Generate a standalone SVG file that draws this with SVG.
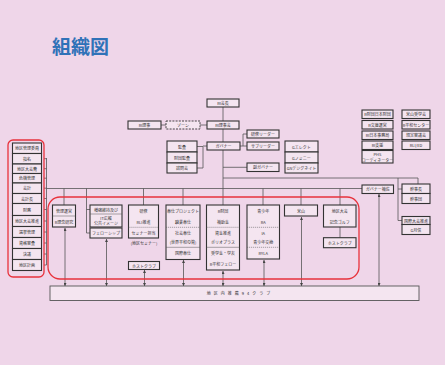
<svg xmlns="http://www.w3.org/2000/svg" width="445" height="365" viewBox="0 0 445 365">
<defs>
<style>
.b{fill:#f4e5f0;stroke:#333;stroke-width:1.1}
.bd{fill:#f4e5f0;stroke:#333;stroke-width:0.9;stroke-dasharray:2 1.2}
.t{font-family:"Noto Sans CJK JP","Noto Sans",sans-serif;font-size:4px;fill:#333;text-anchor:middle;dominant-baseline:central}
.c{stroke:#555;stroke-width:0.8;fill:none}
.s{stroke:#555;stroke-width:0.5;fill:none}
.sd{stroke:#555;stroke-width:0.5;fill:none;stroke-dasharray:1.2 0.8}
.a{stroke:#555;stroke-width:0.8;fill:none;marker-start:url(#ah);marker-end:url(#ah)}
.red{fill:none;stroke:#e8323c;stroke-width:1.3}
</style>
<marker id="ah" viewBox="0 0 4 4" refX="4" refY="2" markerWidth="3" markerHeight="3" markerUnits="userSpaceOnUse" orient="auto-start-reverse">
<path d="M0,0 L4,2 L0,4 z" fill="#444"/>
</marker>
</defs>
<rect x="0" y="0" width="445" height="365" fill="#efd6e9"/>
<text x="52" y="54" font-family="'Noto Sans CJK JP','Noto Sans',sans-serif" font-size="19" font-weight="bold" fill="#2f72b8">組織図</text>

<g id="connectors">
<path class="c" d="M223,107V121 M161,125H166 M200,125H207 M223,129V142"/>
<path class="c" d="M197,146.5H203 M197,168H203 M203,146.5V168 M203,146H207"/>
<path class="c" d="M240,146H243 M243,134V146 M243,134H247 M243,146H247"/>
<path class="c" d="M223,150V205 M223,167.3H247"/>
<path class="c" d="M223,178H418V184 M398,178V220.5 M398,189H402 M398,220.5H402"/>
<path class="c" d="M46.5,158V265 M44,158.7H46.5 M44,168.7H46.5 M44,178.2H46.5 M44,188.2H46.5 M44,198.5H46.5 M44,209.5H46.5 M44,221H46.5 M44,232H46.5 M44,243H46.5 M44,254H46.5 M44,265H46.5"/>
<path class="c" d="M46.5,188.5H362"/>
<path class="c" d="M64,188.5V205 M86.5,188.5V233 M86.5,209.5H90 M86.5,233H90 M143.5,188.5V205 M183,188.5V205 M263,188.5V205 M301,188.5V205 M340,188.5V205 M340,227V237.7"/>
<path class="a" d="M65,286V228"/>
<path class="a" d="M106.5,286V239"/>
<path class="a" d="M144.5,286V270"/>
<path class="a" d="M183.5,286V260"/>
<path class="a" d="M223,286V271"/>
<path class="a" d="M264,286V260"/>
<path class="a" d="M301.5,286V217"/>
<path class="a" d="M379,286V194"/>
</g>

<rect class="red" x="8" y="140" width="36" height="137" rx="5"/>
<rect class="red" x="48" y="197" width="311" height="82" rx="12"/>

<g id="ri-kaicho"><rect class="b" x="207" y="99" width="32" height="8"/><text class="t" x="223" y="103">RI会長</text></g>
<g id="ri-riji"><rect class="b" x="128" y="121" width="33" height="8"/><text class="t" x="144.5" y="125">RI理事</text></g>
<g id="zone"><rect class="bd" x="166" y="121" width="34" height="8"/><text class="t" x="183" y="125">ゾーン</text></g>
<g id="ri-rijikai"><rect class="b" x="207" y="121" width="32" height="8"/><text class="t" x="223" y="125">RI理事会</text></g>
<g id="governor"><rect class="b" x="207" y="142" width="33" height="8"/><text class="t" x="223.5" y="146">ガバナー</text></g>
<g id="kansa">
<rect class="b" x="167" y="141" width="30" height="11"/><text class="t" x="182" y="146.5">監査</text>
<rect class="b" x="167" y="152" width="30" height="11"/><text class="t" x="182" y="157.5">財団監査</text>
<rect class="b" x="167" y="163" width="30" height="10"/><text class="t" x="182" y="168">諮問会</text>
</g>
<g id="kenshu-leader"><rect class="b" x="247" y="130" width="32" height="8"/><text class="t" x="263" y="134">研修リーダー</text></g>
<g id="sub-leader"><rect class="b" x="247" y="142" width="32" height="8"/><text class="t" x="263" y="146">サブリーダー</text></g>
<g id="fuku-governor"><rect class="b" x="247" y="163" width="32" height="8.5"/><text class="t" x="263" y="167.3">副ガバナー</text></g>
<g id="g-elect">
<rect class="b" x="285" y="141" width="33" height="11"/><text class="t" x="301.5" y="146.5">Gエレクト</text>
<rect class="b" x="285" y="152" width="33" height="11"/><text class="t" x="301.5" y="157.5">Gノミニー</text>
<rect class="b" x="285" y="163" width="33" height="10"/><text class="t" x="301.5" y="168">GNデジグネイト</text>
</g>

<g id="right-col1">
<rect class="b" x="362" y="110" width="31" height="8.5"/><text class="t" x="377.5" y="114.2">R財団日本財団</text>
<rect class="b" x="362" y="120.5" width="31" height="8.5"/><text class="t" x="377.5" y="124.7">R文庫運営</text>
<rect class="b" x="362" y="131" width="31" height="8.5"/><text class="t" x="377.5" y="135.2">RI日本事務局</text>
<rect class="b" x="362" y="141" width="31" height="8.5"/><text class="t" x="377.5" y="145.2">RI支援</text>
<rect class="b" x="362" y="150.5" width="31" height="12.5"/><text class="t" x="377.5" y="154">PHS</text><text class="t" x="377.5" y="159.5">コーディネーター</text>
</g>
<g id="right-col2">
<rect class="b" x="402" y="110" width="28" height="8.5"/><text class="t" x="416" y="114.2">米山奨学会</text>
<rect class="b" x="402" y="120.5" width="28" height="8.5"/><text class="t" x="416" y="124.7">R平和センター</text>
<rect class="b" x="402" y="131" width="28" height="8.5"/><text class="t" x="416" y="135.2">規定審議会</text>
<rect class="b" x="402" y="141" width="28" height="8.5"/><text class="t" x="416" y="145.2">RLI/ED</text>
</g>

<g id="district-committee">
<rect class="b" x="12.5" y="143" width="29" height="10.5"/><text class="t" x="27" y="148.2">地区管理委員</text>
<rect class="b" x="12.5" y="153.5" width="29" height="10.5"/><text class="t" x="27" y="158.7">指名</text>
<rect class="b" x="12.5" y="164" width="29" height="9.5"/><text class="t" x="27" y="168.7">地区大会費</text>
<rect class="b" x="12.5" y="173.5" width="29" height="9.5"/><text class="t" x="27" y="178.2">危機管理</text>
<rect class="b" x="12.5" y="183" width="29" height="10.5"/><text class="t" x="27" y="188.2">会計</text>
<rect class="b" x="12.5" y="193.5" width="29" height="10"/><text class="t" x="27" y="198.5">会計長</text>
<rect class="b" x="12.5" y="203.5" width="29" height="12"/><text class="t" x="27" y="209.5">財務</text>
<rect class="b" x="12.5" y="215.5" width="29" height="11"/><text class="t" x="27" y="221">地区大会推進</text>
<rect class="b" x="12.5" y="226.5" width="29" height="11"/><text class="t" x="27" y="232">選挙管理</text>
<rect class="b" x="12.5" y="237.5" width="29" height="11"/><text class="t" x="27" y="243">資格審査</text>
<rect class="b" x="12.5" y="248.5" width="29" height="11"/><text class="t" x="27" y="254">決議</text>
<rect class="b" x="12.5" y="259.5" width="29" height="11"/><text class="t" x="27" y="265">地区計画</text>
</g>

<g id="kanri-unei">
<rect class="b" x="52.5" y="205" width="23" height="22"/><path class="s" d="M52.5,216H75.5"/>
<text class="t" x="64" y="210.5">管理運営</text><text class="t" x="64" y="221.5">R理念研究</text>
</g>
<g id="zokyo">
<rect class="b" x="90" y="205" width="32" height="22"/><path class="s" d="M90,214H122"/>
<text class="t" x="106" y="209.5">増強維持及び</text><text class="t" x="106" y="218">IT広報</text><text class="t" x="106" y="222.5">公共イメージ</text>
<rect class="b" x="90" y="228" width="32" height="10"/><text class="t" x="106" y="233">フェローシップ</text>
</g>
<g id="kenshu">
<rect class="b" x="128.5" y="205" width="30" height="33"/><path class="sd" d="M128.5,227.3H158.5"/>
<text class="t" x="143.5" y="210.5">研修</text><text class="t" x="143.5" y="221.5">RLI推進</text><text class="t" x="143.5" y="232.5">セミナー担当</text>
<text class="t" x="144" y="243">(地区セミナー)</text>
</g>
<g id="host-club-1"><rect class="b" x="128.5" y="261.5" width="31" height="8"/><text class="t" x="144" y="265.5">ホストクラブ</text></g>
<g id="hoshi">
<rect class="b" x="166" y="205" width="34" height="54.5"/><path class="sd" d="M166,227.3H200"/><path class="s" d="M166,247.3H200"/>
<text class="t" x="183" y="211">奉仕プロジェクト</text><text class="t" x="183" y="222">職業奉仕</text><text class="t" x="183" y="232.7">社会奉仕</text><text class="t" x="183" y="242.3">(世界平和の質)</text><text class="t" x="183" y="253">国際奉仕</text>
</g>
<g id="r-zaidan">
<rect class="b" x="206.5" y="205" width="33" height="65"/><path class="sd" d="M206.5,227.3H239.5"/><path class="s" d="M206.5,247.3H239.5"/>
<text class="t" x="223" y="211">R財団</text><text class="t" x="223" y="222">補助金</text><text class="t" x="223" y="232.7">資金推進</text><text class="t" x="223" y="242.3">ポリオプラス</text><text class="t" x="223" y="253">奨学金・学友</text><text class="t" x="223" y="264">R平和フェロー</text>
</g>
<g id="seishonen">
<rect class="b" x="247" y="205" width="32.5" height="54"/><path class="sd" d="M247,227.3H279.5"/><path class="sd" d="M247,247.3H279.5"/>
<text class="t" x="263.2" y="211">青少年</text><text class="t" x="263.2" y="222">RA</text><text class="t" x="263.2" y="232.7">IA</text><text class="t" x="263.2" y="242.3">青少年交換</text><text class="t" x="263.2" y="253">RYLA</text>
</g>
<g id="yoneyama"><rect class="b" x="284.5" y="205" width="33" height="11"/><text class="t" x="301" y="210.5">米山</text></g>
<g id="chiku-taikai">
<rect class="b" x="323.5" y="205" width="32.5" height="22"/>
<text class="t" x="339.7" y="211">地区大会</text><text class="t" x="339.7" y="222">記念ゴルフ</text>
</g>
<g id="host-club-2"><rect class="b" x="323.5" y="237.7" width="32.5" height="10"/><text class="t" x="339.7" y="242.7">ホストクラブ</text></g>
<g id="governor-hosa"><rect class="b" x="362" y="185" width="31.5" height="8.5"/><text class="t" x="377.7" y="189.2">ガバナー補佐</text></g>
<g id="kanji">
<rect class="b" x="402" y="184" width="28" height="9.5"/><text class="t" x="416" y="188.7">幹事長</text>
<rect class="b" x="402" y="193.5" width="28" height="10"/><text class="t" x="416" y="198.5">幹事団</text>
</g>
<g id="kokusai-taikai">
<rect class="b" x="402" y="216.5" width="28" height="8"/><text class="t" x="416" y="220.5">国際大会推進</text>
<rect class="b" x="402" y="224.5" width="28" height="10"/><text class="t" x="416" y="229.5">G月信</text>
</g>
<g id="clubs">
<rect class="b" x="50" y="286" width="369" height="14.5" style="stroke:#555;stroke-width:0.9"/>
<text class="t" x="240" y="293.3" style="letter-spacing:3px">地区内推薦94クラブ</text>
</g>
</svg>
